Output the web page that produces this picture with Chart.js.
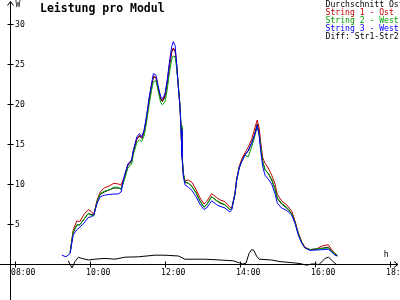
<!DOCTYPE html>
<html><head><meta charset="utf-8">
<script src="https://cdn.jsdelivr.net/npm/chart.js@4/dist/chart.umd.min.js"></script>
<style>html,body{margin:0;padding:0;background:#fff;overflow:hidden}canvas{display:block}</style>
</head><body>
<canvas id="c" width="400" height="300"></canvas>
<script>
const titleText = "Leistung pro Modul";
const seriesNames = ["Durchschnitt Ost", "String 1 - Ost", "String 2 - West", "String 3 - West", "Diff: Str1-Str2"];
const seriesColors = ["#000000", "#c00000", "#00a000", "#0000ff", "#000000"];
const xTickValues = [8, 10, 12, 14, 16, 18];
const xTickLabels = ["08:00", "10:00", "12:00", "14:00", "16:00", "18:00"];
const yTickValues = [5, 10, 15, 20, 25, 30];
const yTickLabels = ["5", "10", "15", "20", "25", "30"];
const yUnit = "W";
const xUnit = "h";

const stringTimes = [9.25,9.36,9.47,9.55,9.65,9.73,9.84,9.95,10.03,10.10,10.19,10.27,10.38,10.53,10.64,10.75,10.83,10.91,11.01,11.11,11.16,11.25,11.32,11.38,11.44,11.49,11.53,11.58,11.645,11.69,11.76,11.82,11.885,11.93,12.00,12.06,12.115,12.18,12.22,12.27,12.31,12.355,12.40,12.427,12.453,12.49,12.533,12.62,12.72,12.83,12.93,13.04,13.11,13.245,13.38,13.47,13.60,13.73,13.78,13.867,13.91,13.98,14.045,14.133,14.22,14.31,14.373,14.427,14.46,14.515,14.55,14.605,14.667,14.755,14.845,14.933,14.995,15.11,15.245,15.38,15.467,15.555,15.645,15.733,15.867,16.045,16.22,16.355,16.445,16.533,16.595];
const str3Values = [1.1,0.9,1.3,3.6,4.3,4.6,5.1,5.8,5.9,6.1,7.6,8.4,8.6,8.7,8.75,8.75,9.0,10.9,12.5,13.0,14.3,15.9,16.3,15.9,16.7,18.0,19.2,20.9,22.6,23.8,23.6,22.2,20.9,20.6,21.3,23.0,25.1,27.2,27.8,27.3,25.1,22.2,19.7,16.8,13.4,10.9,9.9,9.6,9.2,8.4,7.5,6.8,7.0,7.9,7.4,7.2,7.0,6.5,6.8,8.8,10.5,12.0,12.8,13.6,14.2,15.1,15.9,16.7,17.3,15.9,14.2,12.2,11.1,10.6,10.0,8.8,7.6,7.0,6.7,6.1,5.1,3.6,2.6,2.0,1.7,1.75,1.8,1.85,1.5,1.1,1.0];
const str1Values = [null,null,1.4,4.2,5.4,5.3,6.2,6.8,6.6,6.2,8.0,9.0,9.5,9.8,10.1,10.0,9.9,10.8,12.4,13.0,14.2,15.7,16.1,15.8,16.6,17.8,19.0,20.7,22.4,23.5,23.3,22.0,20.7,20.4,21.1,22.8,24.8,26.6,27.0,26.7,25.0,22.1,19.6,16.9,13.6,11.2,10.4,10.5,10.2,9.3,8.3,7.5,7.8,8.8,8.3,8.0,7.8,7.1,7.0,8.9,10.6,12.2,13.1,13.9,14.6,15.6,16.6,17.5,18.0,16.9,15.3,13.3,12.6,12.0,11.1,10.0,8.7,7.9,7.4,6.6,5.4,3.9,2.8,2.1,1.8,1.9,2.3,2.4,1.8,1.3,1.1];
const str2Values = [null,null,1.4,4.0,4.9,4.9,5.6,6.3,6.1,6.0,7.8,8.8,9.1,9.3,9.6,9.6,9.3,10.4,12.0,12.5,13.7,15.2,15.5,15.3,16.0,17.2,18.4,20.0,21.8,22.8,22.9,21.6,20.2,19.9,20.3,21.8,23.8,25.6,26.0,25.9,24.6,22.3,19.9,17.3,14.0,11.4,10.3,10.1,9.7,8.9,7.9,7.1,7.4,8.4,7.9,7.7,7.4,6.8,6.9,8.7,10.4,12.0,12.8,13.6,13.4,14.6,15.6,16.6,17.1,16.2,14.8,12.8,11.8,11.3,10.6,9.4,8.3,7.6,7.1,6.3,5.2,3.8,2.7,2.0,1.8,1.9,1.95,2.0,1.6,1.3,1.1];
const avgValues = [null,null,1.4,3.9,4.9,4.9,5.6,6.3,6.2,6.1,7.8,8.7,9.0,9.3,9.5,9.5,9.4,10.7,12.3,12.8,14.1,15.6,16.0,15.7,16.4,17.7,18.9,20.5,22.3,23.4,23.3,21.9,20.6,20.3,20.9,22.5,24.6,26.5,26.9,26.6,24.9,22.2,19.7,17.0,13.7,11.2,10.2,10.1,9.7,8.9,7.9,7.1,7.4,8.4,7.9,7.6,7.4,6.8,6.9,8.8,10.5,12.1,12.9,13.7,14.1,15.1,16.0,16.9,17.5,16.3,14.8,12.8,11.8,11.3,10.5,9.4,8.2,7.5,7.0,6.3,5.2,3.8,2.7,2.0,1.8,1.85,2.0,2.1,1.6,1.2,1.0];

const diffTimes = [9.42,9.52,9.60,9.69,9.78,9.96,10.13,10.40,10.67,10.93,11.29,11.73,12.00,12.36,12.53,13.07,13.47,13.82,13.98,14.07,14.16,14.24,14.31,14.37,14.44,14.51,14.84,15.07,15.42,15.60,15.78,15.91,16.04,16.10,16.27,16.36,16.44,16.53,16.58];
const diffValues = [0.4,-0.5,0.3,0.85,0.7,0.5,0.6,0.7,0.6,0.85,0.9,1.1,1.1,1.0,0.6,0.6,0.5,0.4,0.15,0.0,0.1,1.3,1.8,1.7,1.0,0.6,0.5,0.3,0.15,0.05,-0.15,0.0,0.0,-0.1,0.7,0.85,0.5,0.1,-0.1];

const xMin = 7.6, xMax = 18.2667, yMin = -4.5, yMax = 33;
const yAxisAt = 7.867;

function pts(ts, vs) { return ts.map((t, i) => ({ x: t, y: vs[i] })); }

const FONT = '"DejaVu Sans Mono", "Liberation Mono", monospace';

function smallText(ctx, text, x, y, align, baseline) {
  ctx.save();
  ctx.translate(x, y);
  ctx.scale(0.9, 1);
  ctx.font = '9px ' + FONT;
  ctx.textAlign = align;
  ctx.textBaseline = baseline;
  ctx.fillText(text, 0, 0);
  ctx.restore();
}

const axesPlugin = {
  id: 'customAxes',
  beforeDatasetsDraw(chart) {
    const { ctx } = chart;
    const xs = chart.scales.x, ys = chart.scales.y;
    const x0 = Math.round(xs.getPixelForValue(yAxisAt)) + 0.5;
    const y0 = Math.round(ys.getPixelForValue(0)) + 0.5;
    const yTop = Math.round(ys.getPixelForValue(yMax - 0.1)) + 0.5;
    const yBot = ys.getPixelForValue(yMin);
    const xRight = Math.round(xs.getPixelForValue(xMax - 0.05));
    ctx.save();
    ctx.strokeStyle = '#000';
    ctx.lineWidth = 1;
    ctx.beginPath();
    ctx.moveTo(x0, yBot); ctx.lineTo(x0, yTop);
    ctx.moveTo(x0 - 3, yTop + 4); ctx.lineTo(x0, yTop); ctx.lineTo(x0 + 3, yTop + 4);
    ctx.moveTo(0, y0); ctx.lineTo(xRight, y0);
    ctx.moveTo(xRight - 4, y0 - 3); ctx.lineTo(xRight, y0); ctx.lineTo(xRight - 4, y0 + 3);
    yTickValues.forEach(v => {
      const py = Math.round(ys.getPixelForValue(v)) + 0.5;
      ctx.moveTo(x0 - 3, py); ctx.lineTo(x0 + 3, py);
    });
    xTickValues.forEach(v => {
      const px = Math.round(xs.getPixelForValue(v)) + 0.5;
      ctx.moveTo(px, y0 - 3); ctx.lineTo(px, y0 + 3);
    });
    ctx.stroke();

    ctx.fillStyle = '#000';
    yTickValues.forEach((v, i) => {
      const py = Math.round(ys.getPixelForValue(v)) + 0.5;
      smallText(ctx, yTickLabels[i], x0 + 4.5, py, 'left', 'middle');
    });
    xTickValues.forEach((v, i) => {
      const px = Math.round(xs.getPixelForValue(v));
      smallText(ctx, xTickLabels[i], px - 4, y0 + 3.5, 'left', 'top');
    });
    smallText(ctx, yUnit, x0 + 5, 0, 'left', 'top');
    smallText(ctx, xUnit, xs.getPixelForValue(17.9), y0 - 10, 'center', 'middle');
    ctx.restore();
  },
  afterDraw(chart) {
    const { ctx } = chart;
    ctx.save();
    ctx.fillStyle = '#000';
    ctx.font = 'bold 11.5px ' + FONT;
    ctx.textAlign = 'left';
    ctx.textBaseline = 'alphabetic';
    ctx.fillText(titleText, 40, 11.5);
    seriesNames.forEach((n, i) => {
      ctx.fillStyle = seriesColors[i];
      smallText(ctx, n, 325.5, 4.5 + 8 * i, 'left', 'middle');
    });
    ctx.restore();
  }
};

const common = { borderWidth: 1, pointRadius: 0, tension: 0, fill: false, spanGaps: false };

new Chart(document.getElementById('c'), {
  type: 'line',
  data: {
    datasets: [
      Object.assign({ label: seriesNames[3], data: pts(stringTimes, str3Values), borderColor: seriesColors[3], order: 1 }, common),
      Object.assign({ label: seriesNames[2], data: pts(stringTimes, str2Values), borderColor: seriesColors[2], order: 2 }, common),
      Object.assign({ label: seriesNames[1], data: pts(stringTimes, str1Values), borderColor: seriesColors[1], order: 3 }, common),
      Object.assign({ label: seriesNames[0], data: pts(stringTimes, avgValues), borderColor: seriesColors[0], order: 4 }, common),
      Object.assign({ label: seriesNames[4], data: pts(diffTimes, diffValues), borderColor: seriesColors[4], order: 0 }, common)
    ]
  },
  options: {
    responsive: false,
    animation: false,
    devicePixelRatio: 1,
    layout: { padding: 0 },
    plugins: { legend: { display: false }, title: { display: false }, tooltip: { enabled: false } },
    scales: {
      x: { type: 'linear', min: xMin, max: xMax, display: false },
      y: { type: 'linear', min: yMin, max: yMax, display: false }
    }
  },
  plugins: [axesPlugin]
});
</script>
</body></html>
